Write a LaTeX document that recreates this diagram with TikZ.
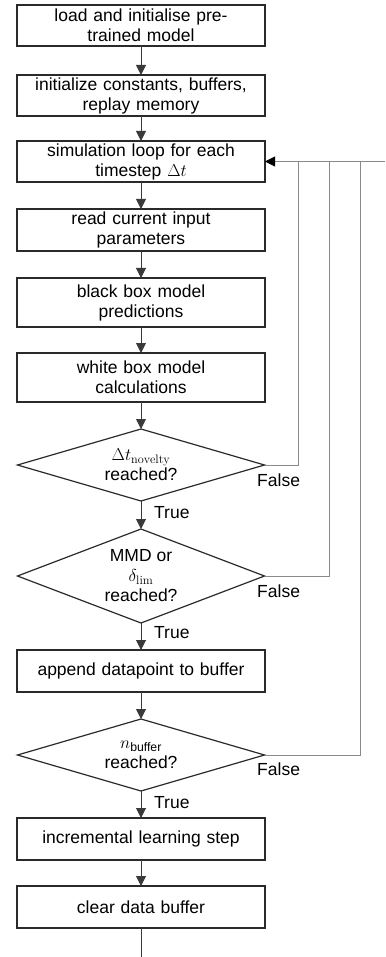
\documentclass[tikz,border=0pt]{standalone}
\usepackage{amsmath}
\usepackage{fontspec}
\setsansfont{Liberation Sans}
\usetikzlibrary{shapes.geometric,arrows.meta}
\definecolor{boxline}{HTML}{2A2A2A}
\definecolor{flowline}{HTML}{3A3A3A}
\definecolor{backline}{HTML}{8A8A8A}
\begin{document}
\begin{tikzpicture}[x=1pt,y=-1pt,
  every node/.style={font=\sffamily\fontsize{17.5}{20}\selectfont},
  procbox/.style={draw=boxline,line width=1.2pt,rectangle,minimum width=248pt,inner sep=0pt,outer sep=0pt,align=center,text width=244pt},
  decide/.style={draw=boxline,line width=1.2pt,diamond,minimum width=247pt,inner sep=0pt,outer sep=0pt,align=center},
  flow/.style={draw=flowline,line width=1pt,-{Triangle[width=10pt,length=10pt]}},
  back/.style={draw=backline,line width=1pt},
  backarrow/.style={draw=backline,line width=1pt,-{Triangle[width=10pt,length=10pt,color=black]}},
  lbl/.style={inner sep=0pt,anchor=west}]
\useasboundingbox (0,0) rectangle (385,957);

\node[procbox,minimum height=41pt] (b1) at (141,25.5) {load and initialise pre-\\trained model};
\node[procbox,minimum height=41pt] (b2) at (141,95.5) {initialize constants, buffers,\\replay memory};
\node[procbox,minimum height=41pt] (b3) at (141,161.5) {simulation loop for each\\timestep $\Delta t$};
\node[procbox,minimum height=42pt] (b4) at (141,230) {read current input\\parameters};
\node[procbox,minimum height=49pt] (b5) at (141,302.5) {black box model\\predictions};
\node[procbox,minimum height=49pt] (b6) at (141,377.5) {white box model\\calculations};
\node[decide,aspect=3.6,minimum height=72pt] (d1) at (141,465) {$\Delta t_{\mathrm{novelty}}$\\reached?};
\node[decide,aspect=2.8,minimum height=94pt] (d2) at (141,576) {MMD or\\$\delta_{\mathrm{lim}}$\\reached?};
\node[procbox,minimum height=42pt] (b7) at (141,671) {append datapoint to buffer};
\node[decide,aspect=3.6,minimum height=72pt] (d3) at (141,755) {$n_{\textsf{buffer}}$\\reached?};
\node[procbox,minimum height=42pt] (b8) at (141,839) {incremental learning step};
\node[procbox,minimum height=42pt] (b9) at (141,907) {clear data buffer};

\coordinate (endpt) at (141,957);
\coordinate (edge) at (385,161.5);
\coordinate (j1) at (298,161.5);
\coordinate (j2) at (329,161.5);
\coordinate (j3) at (360,161.5);

\draw[flow] (b1) -- (b2);
\draw[flow] (b2) -- (b3);
\draw[flow] (b3) -- (b4);
\draw[flow] (b4) -- (b5);
\draw[flow] (b5) -- (b6);
\draw[flow] (b6) -- (d1);
\draw[flow] (d1) -- (d2);
\draw[flow] (d2) -- (b7);
\draw[flow] (b7) -- (d3);
\draw[flow] (d3) -- (b8);
\draw[flow] (b8) -- (b9);
\draw[draw=flowline,line width=1pt] (b9) -- (endpt);

\draw[back] (d1.east) -| (j1);
\draw[back] (d2.east) -| (j2);
\draw[back] (d3.east) -| (j3);
\draw[backarrow] (edge) -- (b3.east);

\node[lbl] (f1) at (257,480) {False};
\node[lbl] (f2) at (257,591) {False};
\node[lbl] (f3) at (257,769) {False};
\node[lbl] (t1) at (154,513) {True};
\node[lbl] (t2) at (154,633) {True};
\node[lbl] (t3) at (154,803) {True};
\end{tikzpicture}
\end{document}
